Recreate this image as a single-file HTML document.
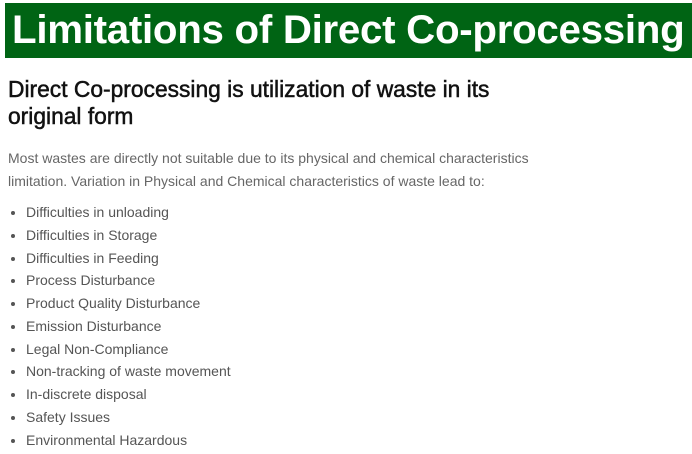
<!DOCTYPE html>
<html><head><meta charset="utf-8"><style>
body{margin:0;width:692px;height:454px;background:#fff;overflow:hidden;font-family:"Liberation Sans",sans-serif;position:relative}
#hdr{position:absolute;left:5px;top:3px;width:687px;height:55px;background:#006414}
#hdr span{position:absolute;left:7px;top:3px;color:#fff;font-weight:bold;font-size:40.3px;line-height:48px;white-space:nowrap;letter-spacing:-0.3px}
h2{position:absolute;left:8px;top:76px;margin:0;font-size:22.8px;font-weight:normal;line-height:27px;color:#111;-webkit-text-stroke:0.5px #111;width:520px}
p{position:absolute;left:8px;top:147px;margin:0;font-size:14px;line-height:23px;color:#666;letter-spacing:0px;width:535px}
ul{position:absolute;left:0;top:201px;margin:0;padding:0;list-style:none}
li{position:relative;padding-left:26px;font-size:14px;line-height:22.75px;color:#555}
li:before{content:"";position:absolute;left:11px;top:10px;width:4px;height:4px;border-radius:50%;background:#555}
</style></head><body>
<div id="hdr"><span>Limitations of Direct Co-processing</span></div>
<h2>Direct Co-processing is utilization of waste in its original form</h2>
<p>Most wastes are directly not suitable due to its physical and chemical characteristics limitation. Variation in Physical and Chemical characteristics of waste lead to:</p>
<ul>
<li>Difficulties in unloading</li>
<li>Difficulties in Storage</li>
<li>Difficulties in Feeding</li>
<li>Process Disturbance</li>
<li>Product Quality Disturbance</li>
<li>Emission Disturbance</li>
<li>Legal Non-Compliance</li>
<li>Non-tracking of waste movement</li>
<li>In-discrete disposal</li>
<li>Safety Issues</li>
<li>Environmental Hazardous</li>
</ul>
</body></html>
